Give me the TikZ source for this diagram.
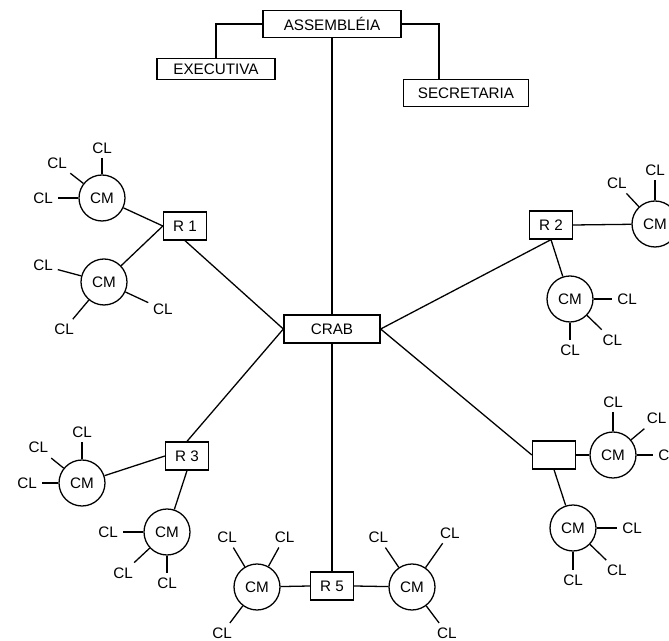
\documentclass[tikz,border=0pt]{standalone}
\usepackage{fontspec}
\setmainfont{Liberation Sans}
\tikzset{
	orgbox/.style ={rectangle, draw=black, line width=1.1pt, minimum height=0.8cm, inner sep=2pt, align=center},
	rbox/.style   ={rectangle, draw=black, line width=1.1pt, minimum width=1.29cm, minimum height=0.84cm, inner sep=1pt},
	cmnode/.style ={circle, draw=black, line width=1.1pt, minimum size=1.38cm, inner sep=0pt},
	clnode/.style ={inner sep=4pt},
	link/.style   ={line width=1.1pt},
}
\begin{document}
\begin{tikzpicture}[x=0.03cm, y=0.03cm, font=\fontsize{13}{15}\selectfont]
	\useasboundingbox (0,0) rectangle (669,640);
	\clip (0,0) rectangle (669,640);
	% direction
	\node[orgbox, minimum width=4.14cm] (ass) at (332,616) {ASSEMBLÉIA};
	\node[orgbox, minimum width=3.54cm, minimum height=0.62cm] (exe) at (216,571) {EXECUTIVA};
	\node[orgbox, minimum width=3.75cm] (sec) at (466,547) {SECRETARIA};
	\node[orgbox, minimum width=2.88cm, minimum height=0.84cm] (crab) at (332,311) {CRAB};
	\draw[link] (ass.west) -| (exe.north);
	\draw[link] (ass.east) -| ([xshift=-0.81cm]sec.north);
	\draw[link] (ass.south) -- (crab.north);
	% regionals
	\node[rbox] (r1) at (185,414) {R 1};
	\node[rbox] (r2) at (551,415) {R 2};
	\node[rbox] (r3) at (187,184) {R 3};
	\node[rbox] (r4) at (554,185) {};
	\node[rbox] (r5) at (332,54)  {R 5};
	\draw[link] (crab.west)  -- (r1.south);
	\draw[link] (crab.west)  -- (r3.north);
	\draw[link] (crab.east)  -- (r2.south);
	\draw[link] (crab.east)  -- (r4.west);
	\draw[link] (crab.south) -- (r5.north);
	% CM circles
	\node[cmnode] (cm1a) at (102,442) {CM};
	\node[cmnode] (cm1b) at (104,358) {CM};
	\node[cmnode] (cm2a) at (655,416) {CM};
	\node[cmnode] (cm2b) at (570,341) {CM};
	\node[cmnode] (cm3a) at (82,157)  {CM};
	\node[cmnode] (cm3b) at (167,108) {CM};
	\node[cmnode] (cm4a) at (613,185) {CM};
	\node[cmnode] (cm4b) at (573,112) {CM};
	\node[cmnode] (cm5a) at (257,53)  {CM};
	\node[cmnode] (cm5b) at (412,53)  {CM};
	\draw[link] (r1.west)  -- (cm1a);
	\draw[link] (r1.west)  -- (cm1b);
	\draw[link] (r2.east)  -- (cm2a);
	\draw[link] (r2.south) -- (cm2b);
	\draw[link] (r3.west)  -- (cm3a);
	\draw[link] (r3.south) -- (cm3b);
	\draw[link] (r4.east)  -- (cm4a);
	\draw[link] (r4.south) -- (cm4b);
	\draw[link] (r5.west)  -- (cm5a);
	\draw[link] (r5.east)  -- (cm5b);
	% CL around each CM
	\foreach \c/\lst in {cm1a/{90/50,142/57,180/59}, cm1b/{165/63,-25/65,-130/62},
			cm2a/{133/56,90/54}, cm2b/{0/57,-44/59,-90/51},
			cm3a/{90/51,141/56,180/55}, cm3b/{180/59,-137/60,-90/51},
			cm4a/{90/53,40/57,0/55}, cm4b/{0/59,-44/61,-90/52},
			cm5a/{121/58,61/57,-127/58}, cm5b/{124/60,55/66,-53/58}}
		\foreach \a/\d [count=\i] in \lst {
			\path (\c) ++(\a:\d) node[clnode] (\c-\i) {CL};
			\draw[link] (\c) -- (\c-\i);
		};
\end{tikzpicture}
\end{document}
